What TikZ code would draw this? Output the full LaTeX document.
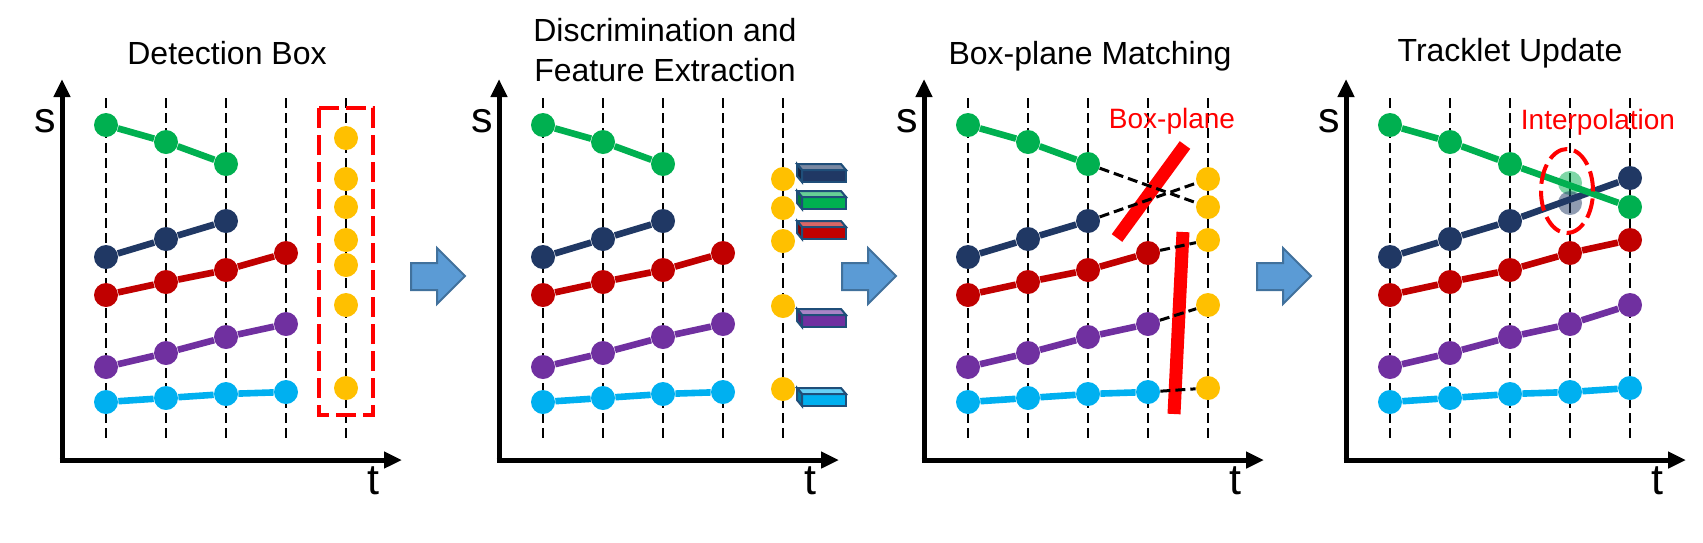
\documentclass[tikz,border=0pt]{standalone}
\usepackage{fontspec}
\setmainfont{Liberation Sans}
\usetikzlibrary{arrows.meta}

\definecolor{trgreen}{HTML}{00B050}
\definecolor{trnavy}{HTML}{203864}
\definecolor{trred}{HTML}{C00000}
\definecolor{trpurple}{HTML}{7030A0}
\definecolor{trcyan}{HTML}{00B0F0}
\definecolor{detyellow}{HTML}{FFC000}
\definecolor{arrowfill}{HTML}{5B9BD5}
\definecolor{arrowedge}{HTML}{41719C}
\definecolor{featedge}{HTML}{1F4E79}

% feature vector: front top-left x, y, colour
\newcommand\featbar[3]{%
  \filldraw[draw=featedge, line width=1pt, fill=#3] (#1,#2) rectangle ++(44,12);
  \filldraw[draw=featedge, line width=1pt, fill=#3!60!white] (#1,#2) -- ++(-5,-6) -- ++(44,0) -- ++(5,6) -- cycle;
  \filldraw[draw=featedge, line width=1pt, fill=#3!70!black] (#1,#2) -- ++(-5,-6) -- ++(0,12) -- ++(5,6) -- cycle;
}

\begin{document}
\begin{tikzpicture}[x=0.5pt, y=-0.5pt,
    title/.style={font=\fontsize{16pt}{20pt}\selectfont},
    axislabel/.style={font=\fontsize{21.5pt}{24pt}\selectfont},
    redlabel/.style={red, font=\fontsize{14pt}{16pt}\selectfont},
    axis/.style={line width=2.5pt, -{Triangle[length=9pt, width=8pt]}},
    timeline/.style={line width=1pt, dash pattern=on 5pt off 2.5pt},
    dot/.style={circle, fill=#1, inner sep=0pt, minimum size=12pt},
    track/.style={draw=#1, line width=3.3pt},
    detbox/.style={dot=detyellow},
    reddash/.style={red, line width=2pt, dash pattern=on 10pt off 3.5pt},
    match/.style={line width=1.5pt, dash pattern=on 5pt off 2.5pt},
    planebar/.style={red, line width=6.5pt},
    blockarrow/.style={fill=arrowfill, draw=arrowedge, line width=1pt}]

  \useasboundingbox (0,0) rectangle (1703,542);

  % Titles
  \node[title, anchor=base] (title1) at (227,64) {Detection Box};
  \node[title, anchor=base, align=center] (title2) at (665,81) {Discrimination and\\Feature Extraction};
  \node[title, anchor=base] (title3) at (1090,64) {Box-plane Matching};
  \node[title, anchor=base] (title4) at (1510,61) {Tracklet Update};

  % Axes, time steps and tracklets of each panel
  \foreach \p/\bx in {1/106, 2/543, 3/968, 4/1390} {
    \draw[axis] (\bx-44,462.5) -- (\bx-44,79);
    \draw[axis] (\bx-46.5,460) -- (\bx+296,460);
    \node[axislabel] (s\p) at (\bx-61,121) {s};
    \node[axislabel] (t\p) at (\bx+267,481) {t};
    \foreach \k in {0,...,4}
      \draw[timeline] (\bx+60*\k,98) -- (\bx+60*\k,440);
    \foreach \tn/\tc/\ys in {g/trgreen/{125,142,164}, n/trnavy/{257,239,221},
        r/trred/{295,282,270,253}, q/trpurple/{367,353,337,324},
        c/trcyan/{402,398,394,392}} {
      \foreach \y [count=\i, remember=\i as \j (initially 0)] in \ys {
        \node[dot=\tc] (p\p\tn\i) at (\bx+60*\i-60,\y) {};
        \ifnum\i>1 \draw[track=\tc] (p\p\tn\j) -- (p\p\tn\i); \fi
      }
    }
  }

  % Detections at the newest time step
  \foreach \y [count=\i] in {138,179,207,240,265,305,388}
    \node[detbox] (p1y\i) at (346,\y) {};
  \foreach \y [count=\i] in {179,208,241,306,389}
    \node[detbox] (p2y\i) at (783,\y) {};
  \foreach \y [count=\i] in {179,207,240,305,388}
    \node[detbox] (p3y\i) at (1208,\y) {};
  \draw[reddash] (319,108) rectangle (373,415);

  % Feature vectors
  \featbar{802}{170}{trnavy}
  \featbar{802}{197}{trgreen}
  \featbar{802}{227}{trred}
  \featbar{802}{315}{trpurple}
  \featbar{802}{394}{trcyan}

  % Box-plane matching
  \draw[planebar] (1185,145) -- (1117,238);
  \draw[planebar] (1183,232) -- (1174,414);
  \node[redlabel] (boxplane) at (1172,121) {Box-plane};
  \draw[match] (p3g3) -- (p3y2);
  \draw[match] (p3n3) -- (p3y1);
  \draw[match] (p3r4) -- (p3y3);
  \draw[match] (p3q4) -- (p3y4);
  \draw[match] (p3c4) -- (p3y5);

  % Tracklet update
  \node[dot=trnavy] (p4n5) at (1630,178) {};
  \draw[track=trnavy] (p4n3) -- (p4n5);
  \node[dot=trgreen] (p4g5) at (1630,207) {};
  \draw[track=trgreen] (p4g3) -- (p4g5);
  \node[dot=trgreen, opacity=0.5] (p4g4) at (1570,183) {};
  \node[dot=trnavy, opacity=0.5] (p4n4) at (1570,203) {};
  \node[dot=trred] (p4r5) at (1630,240) {};
  \draw[track=trred] (p4r4) -- (p4r5);
  \node[dot=trpurple] (p4q5) at (1630,305) {};
  \draw[track=trpurple] (p4q4) -- (p4q5);
  \node[dot=trcyan] (p4c5) at (1630,388) {};
  \draw[track=trcyan] (p4c4) -- (p4c5);
  \draw[reddash] (1567,191) ellipse [x radius=13pt, y radius=21pt];
  \node[redlabel] (interp) at (1598,122) {Interpolation};

  % Arrows between the steps
  \foreach \ax in {411, 842, 1257}
    \draw[blockarrow] (\ax,263) -- ++(26,0) -- ++(0,-15) -- ++(28,28)
      -- ++(-28,28) -- ++(0,-14) -- ++(-26,0) -- cycle;
\end{tikzpicture}
\end{document}
